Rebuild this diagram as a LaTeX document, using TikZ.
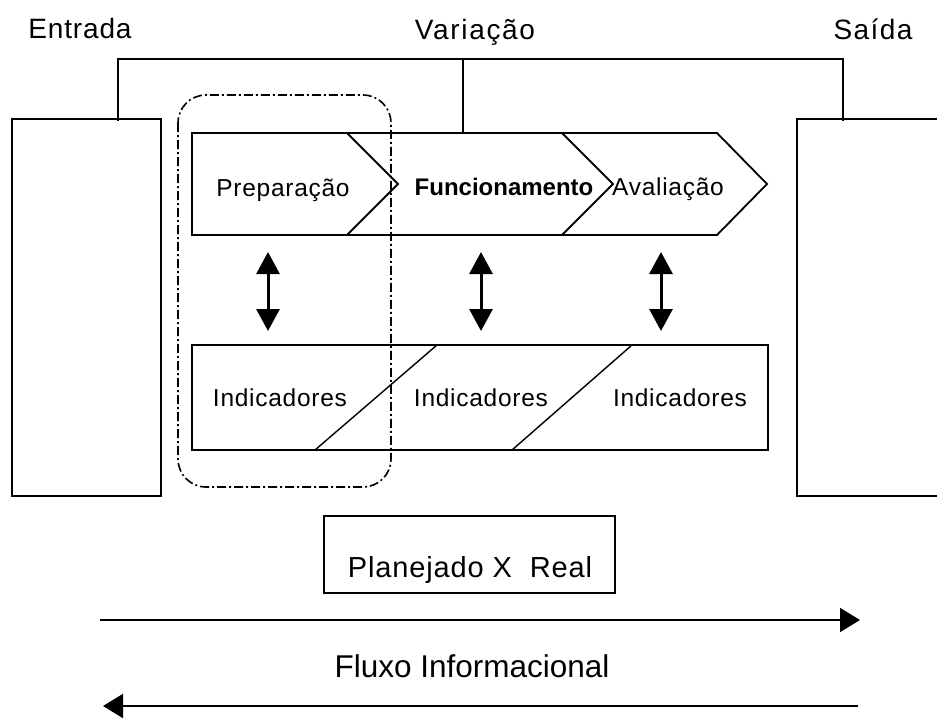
\documentclass[tikz,border=0pt]{standalone}
\usepackage{fontspec}
\setmainfont{Liberation Sans}
\newfontfamily\wideA[LetterSpace=3]{Liberation Sans}
\newfontfamily\wideC[LetterSpace=6]{Liberation Sans}
\newfontfamily\wideD[LetterSpace=5]{Liberation Sans}
\newfontfamily\wideB[LetterSpace=3]{Liberation Sans}
\usetikzlibrary{arrows.meta}
\begin{document}
\begin{tikzpicture}[x=1pt,y=-1pt,
  line/.style={draw=black,line width=1.8pt},
  thin line/.style={draw=black,line width=1.4pt},
  lbl/.style={inner sep=0pt,anchor=base,font=\wideA\fontsize{28}{30}\selectfont},
  inlbl/.style={inner sep=0pt,anchor=base,font=\wideB\fontsize{24.5}{29}\selectfont},
  dbl/.style={line width=3pt,{Triangle[width=23pt,length=22pt]}-{Triangle[width=23pt,length=22pt]}},
  flow/.style={line width=1.8pt,-{Triangle[width=24pt,length=20pt]}},
  region/.style={draw=black,line width=1.6pt,dash pattern=on 9pt off 3pt on 2pt off 3pt,rounded corners=28pt}
]
\useasboundingbox (0,0) rectangle (937,720);
% top labels
\node[lbl] (entrada) at (80,38) {Entrada};
\node[lbl,font=\wideC\fontsize{28}{30}\selectfont] (variacao) at (475,39) {Variação};
\node[lbl,font=\wideD\fontsize{28}{30}\selectfont] (saida) at (873,39) {Saída};
% side boxes
\draw[line] (12,119) rectangle (161,496);
\draw[line] (940,119) -- (797,119) -- (797,496) -- (940,496);
% bracket
\coordinate (bl) at (118,59);
\coordinate (br) at (843,59);
\coordinate (bm) at (463,59);
\draw[thin line] (118,121) -- (bl) -- (br) -- (843,121);
\draw[thin line] (bm) -- (463,134);
% chevrons
\draw[line,line join=miter] (192,133) -- (717,133) -- (767,184) -- (717,235) -- (192,235) -- cycle;
\draw[line] (347,133) -- (398,184) -- (347,235);
\draw[line] (562,133) -- (613,184) -- (562,235);
\node[inlbl] (prep) at (283,196) {Preparação};
\node[inlbl,font=\fontsize{24}{28}\selectfont\bfseries] (func) at (504,195) {Funcionamento};
\node[inlbl] (aval) at (668,195) {Avaliação};
% indicators
\draw[line] (192,345) rectangle (768,450);
\draw[thin line] (315,450) -- (437,345);
\draw[thin line] (512,450) -- (632,345);
\node[inlbl] (ind1) at (280,406) {Indicadores};
\node[inlbl] (ind2) at (481,406) {Indicadores};
\node[inlbl] (ind3) at (680,406) {Indicadores};
% double arrows
\coordinate (a1t) at (268,252); \coordinate (a1b) at (268,331);
\coordinate (a2t) at (481,252); \coordinate (a2b) at (481,331);
\coordinate (a3t) at (661,252); \coordinate (a3b) at (661,331);
\draw[dbl] (a1t) -- (a1b);
\draw[dbl] (a2t) -- (a2b);
\draw[dbl] (a3t) -- (a3b);
% dash-dot region
\draw[region] (178,95) rectangle (391,487);
% planejado
\draw[draw=black,line width=1.6pt] (324,516) rectangle (615,593);
\node[inlbl,font=\wideB\fontsize{29}{33}\selectfont] (plan) at (470,577) {Planejado X\ \ Real};
% flows
\coordinate (f1s) at (100,620); \coordinate (f1e) at (860,620);
\draw[flow] (f1s) -- (f1e);
\node[inner sep=0pt,anchor=base,font=\fontsize{31.5}{35}\selectfont] (fluxo) at (472,677) {Fluxo Informacional};
\coordinate (f2s) at (858,706); \coordinate (f2e) at (103,706);
\draw[flow] (f2s) -- (f2e);
\end{tikzpicture}
\end{document}
